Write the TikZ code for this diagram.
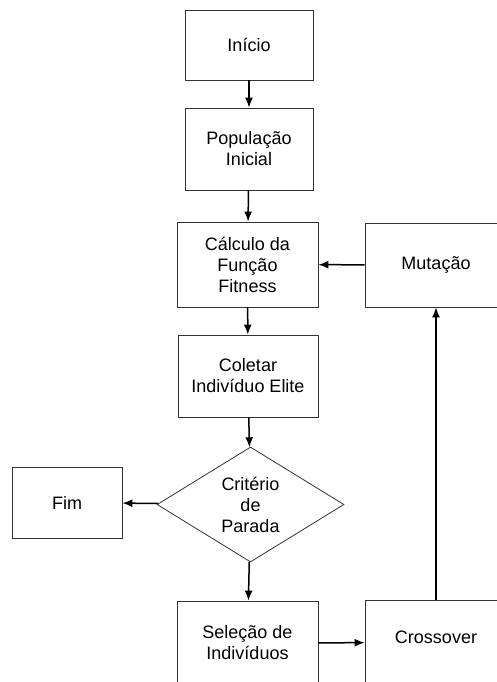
\documentclass[tikz,border=0pt]{standalone}
\usepackage{fontspec}
\setmainfont{Liberation Sans}
\usetikzlibrary{shapes.geometric,arrows.meta}

\begin{document}
\begin{tikzpicture}[x=1pt,y=-1pt,
    caixa/.style={draw=black!80,line width=0.8pt,inner sep=0pt,align=center,
      font=\fontsize{18}{21}\selectfont},
    seta/.style={line width=1.5pt,-{Latex[length=10pt,width=8pt]}}]
    \path[use as bounding box,clip] (0,0) rectangle (497,682);
    % blocos do fluxo principal
    \node[caixa,minimum width=128,minimum height=70] (inicio) at (249,45) {Início};
    \node[caixa,minimum width=128,minimum height=82] (pop) at (249,149) {População\\Inicial};
    \node[caixa,minimum width=141,minimum height=85] (fit) at (247.5,264.5) {Cálculo da\\Função\\Fitness};
    \node[caixa,minimum width=140,minimum height=82] (elite) at (248,376) {Coletar\\Indivíduo Elite};
    \node[caixa,diamond,minimum width=187,minimum height=115] (crit) at (250.5,504.5) {Critério\\de\\Parada};
    \node[caixa,minimum width=110,minimum height=71] (fim) at (67,502.5) {Fim};
    \node[caixa,minimum width=141,minimum height=84] (sel) at (247.5,643) {Seleção de\\Indivíduos};
    % laço de reprodução
    \node[caixa,minimum width=142,minimum height=85] (cross) at (436,642.5) {\raisebox{10pt}{Crossover}};
    \node[caixa,minimum width=142,minimum height=84] (mut) at (436,265) {Mutação};
    \draw[seta] (inicio) -- (pop);
    \draw[seta] (pop) -- (fit);
    \draw[seta] (fit) -- (elite);
    \draw[seta] (elite) -- (crit);
    \draw[seta] (crit) -- (fim);
    \draw[seta] (crit) -- (sel);
    \draw[seta] (sel) -- (cross);
    \draw[seta] (cross) -- (mut);
    \draw[seta] (mut) -- (fit);
\end{tikzpicture}
\end{document}
